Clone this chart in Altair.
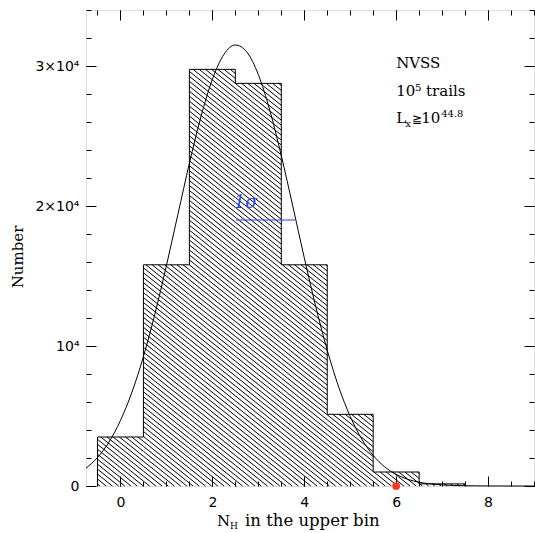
import altair as alt
import pandas as pd
import numpy as np

# ---------------- data ----------------
bin_centers = [0, 1, 2, 3, 4, 5, 6, 7]
bin_counts = [3500, 15800, 29760, 28760, 15800, 5120, 1000, 150]

curve_x = [-0.75, -0.5, -0.25, 0.0, 0.25, 0.5, 0.75, 1.0, 1.25, 1.5, 1.75, 2.0,
           2.25, 2.5, 2.75, 3.0, 3.25, 3.5, 3.75, 4.0, 4.25, 4.5, 4.75, 5.0,
           5.25, 5.5, 5.75, 6.0, 6.25, 6.5, 6.75, 7.0, 7.25, 7.5, 7.75, 8.0,
           8.25, 8.5, 8.75, 9.0]
curve_y = [1270, 2030, 3140, 4680, 6700, 9250, 12290, 15740, 19400, 23050, 26360, 29040,
           30820, 31500, 31000, 29390, 26840, 23600, 20000, 16310, 12820, 9700, 7070, 4970,
           3360, 2190, 1370, 830, 480, 270, 150, 80, 40, 20, 10, 5,
           2, 1, 0, 0]

sigma_x = [2.51, 3.80]
sigma_y = [19000, 19000]
sigma_label = ["1σ"]

dot_x = [6]
dot_y = [0]

x_major = [0, 2, 4, 6, 8]
x_minor = [-0.5, 0, 0.5, 1, 1.5, 2, 2.5, 3, 3.5, 4, 4.5, 5, 5.5, 6, 6.5, 7, 7.5, 8, 8.5, 9]
y_major = [0, 10000, 20000, 30000]
y_minor = [0, 2000, 4000, 6000, 8000, 10000, 12000, 14000, 16000, 18000, 20000,
           22000, 24000, 26000, 28000, 30000, 32000, 34000]

note_lines = ["NVSS", "10⁵ trails"]
note_y = [29850, 27850]
lx_y = [25900]
X_DOM = [-0.75, 9.0]
Y_DOM = [0, 34000]

# ---------------- layout ----------------
W, H = 448, 476
SERIF = "DejaVu Serif"
SANS = "DejaVu Sans"

xs = alt.Scale(domain=X_DOM, nice=False, zero=False)
ys = alt.Scale(domain=Y_DOM, nice=False, zero=False)

# step outline of the histogram
edges = [c - 0.5 for c in bin_centers] + [bin_centers[-1] + 0.5]
outline = pd.DataFrame({
    "x": [edges[0]] + edges,
    "y": [0] + bin_counts + [0],
    "o": list(range(len(edges) + 1)),
})

# hatch segments clipped to each bar
sx = W / (X_DOM[1] - X_DOM[0])
sy = H / (Y_DOM[1] - Y_DOM[0])
slope = 0.8
dk = 6.2 * slope
ks = np.arange(-W * slope - 20, H + 20, dk)
rows = []
for c, n in zip(bin_centers, bin_counts):
    Xa = (c - 0.5 - X_DOM[0]) * sx
    Xb = (c + 0.5 - X_DOM[0]) * sx
    Yt = H - n * sy
    Yb = H
    for k in ks:
        x0 = max(Xa, (Yt - k) / slope)
        x1 = min(Xb, (Yb - k) / slope)
        if x1 - x0 > 0.2:
            rows.append({
                "x": x0 / sx + X_DOM[0], "y": (H - (slope * x0 + k)) / sy,
                "x2": x1 / sx + X_DOM[0], "y2": (H - (slope * x1 + k)) / sy,
            })
hatch = pd.DataFrame(rows)


def xaxis(orient, major):
    kw = dict(orient=orient, domain=False, grid=False, tickColor="black", tickWidth=1, title=None)
    if major:
        kw.update(values=x_major, tickSize=10, offset=-10)
    else:
        kw.update(values=x_minor, tickSize=5, offset=-5)
    if orient == "bottom" and major:
        kw.update(labels=True, labelFont=SANS, labelFontSize=14, labelColor="black",
                  labelPadding=9, format="d")
    else:
        kw.update(labels=False)
    return alt.Axis(**kw)


def yaxis(orient, major):
    kw = dict(orient=orient, domain=False, grid=False, tickColor="black", tickWidth=1, title=None)
    if major:
        kw.update(values=y_major, tickSize=10, offset=-10)
    else:
        kw.update(values=y_minor, tickSize=5, offset=-5)
    if orient == "left" and major:
        kw.update(labels=True, labelFont=SANS, labelFontSize=14, labelColor="black",
                  labelPadding=7,
                  labelExpr="datum.value == 0 ? '0' : (datum.value == 10000 ? '10⁴' : (datum.value/10000) + '×10⁴')")
    else:
        kw.update(labels=False)
    return alt.Axis(**kw)


bars = alt.Chart(outline).mark_line(interpolate="step-after", color="black", strokeWidth=1).encode(
    x=alt.X("x:Q", scale=xs, axis=xaxis("bottom", True)),
    y=alt.Y("y:Q", scale=ys, axis=yaxis("left", True)),
    order="o:Q",
)

hatch_layer = alt.Chart(hatch).mark_rule(color="black", strokeWidth=1).encode(
    x=alt.X("x:Q", scale=xs, axis=xaxis("bottom", False)),
    y=alt.Y("y:Q", scale=ys, axis=yaxis("left", False)),
    x2="x2:Q", y2="y2:Q",
)

curve = alt.Chart(pd.DataFrame({"x": curve_x, "y": curve_y})).mark_line(
    color="black", strokeWidth=1, interpolate="monotone").encode(
    x=alt.X("x:Q", scale=xs, axis=xaxis("top", True)),
    y=alt.Y("y:Q", scale=ys, axis=yaxis("right", True)),
)

sig = pd.DataFrame({"x": [sigma_x[0]], "x2": [sigma_x[1]], "y": [sigma_y[0]], "t": sigma_label})
sigma_rule = alt.Chart(sig).mark_rule(color="#1f45ff", strokeWidth=1.2).encode(
    x=alt.X("x:Q", scale=xs, axis=xaxis("top", False)),
    y=alt.Y("y:Q", scale=ys, axis=yaxis("right", False)),
    x2="x2:Q",
)
sigma_text = alt.Chart(sig).mark_text(align="left", baseline="alphabetic", dy=-12, dx=-2,
                                      font=SERIF, fontStyle="italic", fontSize=18,
                                      color="#1f45ff").encode(
    x=alt.X("x:Q", scale=xs, axis=None),
    y=alt.Y("y:Q", scale=ys, axis=None),
    text="t:N",
)

dot = alt.Chart(pd.DataFrame({"x": dot_x, "y": dot_y})).mark_circle(
    color="#ff3322", opacity=1, size=60).encode(
    x=alt.X("x:Q", scale=xs, axis=None),
    y=alt.Y("y:Q", scale=ys, axis=None),
)

notes = pd.DataFrame({"x": [6.0, 6.0], "y": note_y, "t": note_lines})
notes_layer = alt.Chart(notes).mark_text(align="left", baseline="alphabetic", font=SERIF,
                                         fontSize=15, color="black").encode(
    x=alt.X("x:Q", scale=xs, axis=None),
    y=alt.Y("y:Q", scale=ys, axis=None),
    text="t:N",
)

lx = pd.DataFrame({"x": [6.0], "y": lx_y})


def lx_piece(txt, dx, dy, size):
    return alt.Chart(lx).mark_text(align="left", baseline="alphabetic", font=SERIF,
                                   fontSize=size, color="black", dx=dx, dy=dy,
                                   text=txt).encode(
        x=alt.X("x:Q", scale=xs, axis=None),
        y=alt.Y("y:Q", scale=ys, axis=None),
    )


lx_layers = [
    lx_piece("L", 0, 0, 15),
    lx_piece("x", 9, 4, 10),
    lx_piece("≧", 16, 0, 12),
    lx_piece("10", 25, 0, 15),
    lx_piece("44.8", 45, -6, 10),
]


def ptext(txt, x, y, size, angle=0, align="left"):
    return alt.Chart(pd.DataFrame({"a": [0]})).mark_text(
        align=align, baseline="alphabetic", font=SERIF, fontSize=size, color="black",
        angle=angle, text=txt).encode(x=alt.value(x), y=alt.value(y))


titles = [
    ptext("N", 131, 516, 15),
    ptext("H", 144, 519, 9),
    ptext("in the upper bin", 159, 516, 16.5),
    ptext("Number", -63, 247, 15, angle=270, align="center"),
]

chart = alt.layer(
    hatch_layer, bars, curve, sigma_rule, sigma_text, dot, notes_layer, *lx_layers, *titles
).resolve_axis(x="independent", y="independent").properties(
    width=W, height=H,
    autosize=alt.AutoSizeParams(type="none"),
    padding={"left": 86, "top": 10, "right": 1, "bottom": 47},
).configure_view(stroke="black", strokeWidth=1).configure(background="white")

chart.save("out.html", embed_options={"renderer": "svg", "actions": False})
